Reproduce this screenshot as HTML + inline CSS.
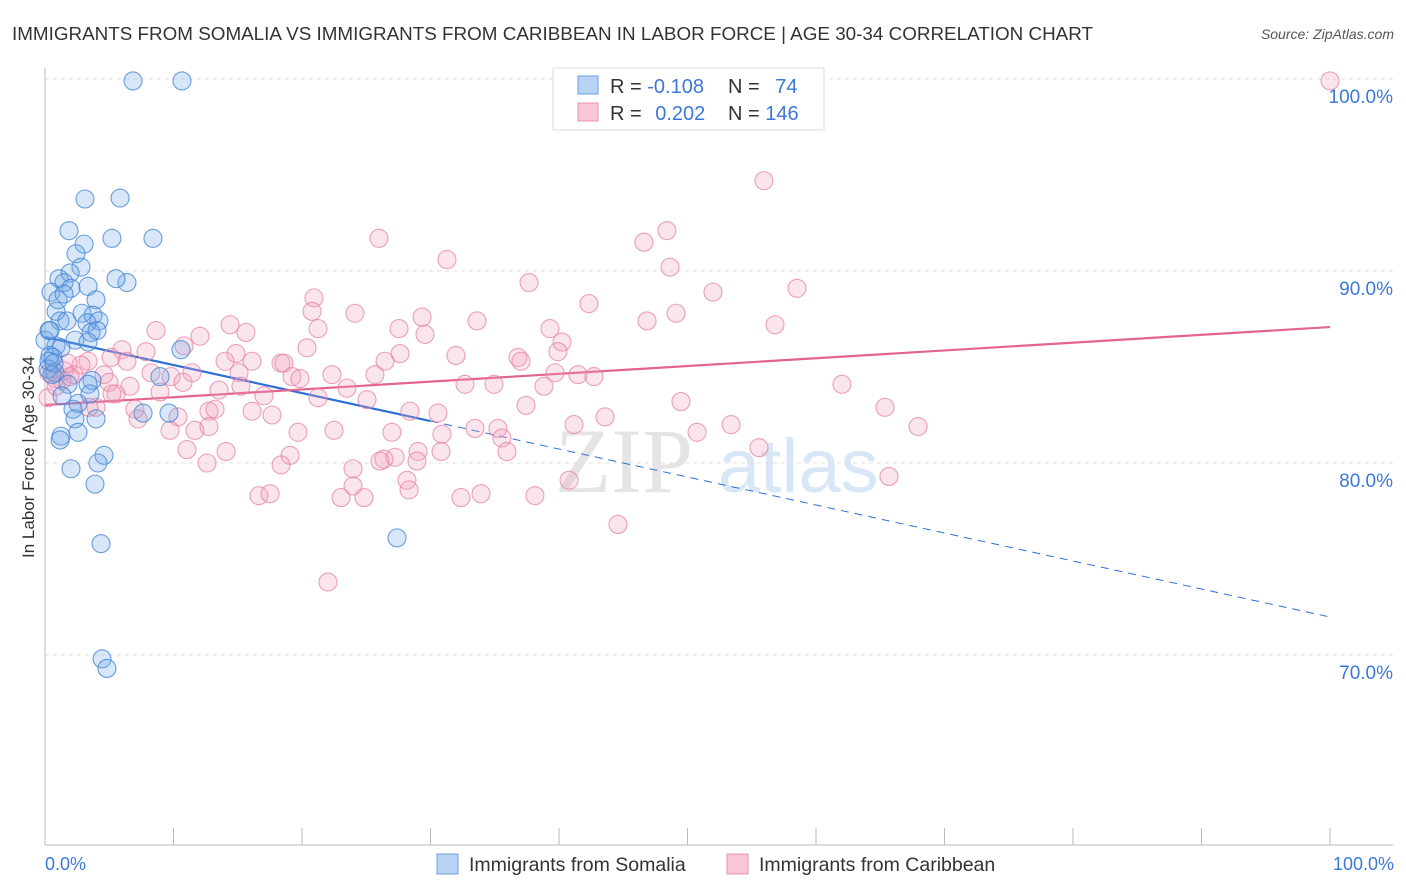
<!DOCTYPE html>
<html><head><meta charset="utf-8">
<style>
body{margin:0;background:#fff;font-family:"Liberation Sans",sans-serif;}
svg{display:block}
</style></head>
<body>
<svg id="chart" width="1406" height="892" viewBox="0 0 1406 892">
<text x="12" y="40" font-size="18" fill="#333" textLength="1081" lengthAdjust="spacingAndGlyphs">IMMIGRANTS FROM SOMALIA VS IMMIGRANTS FROM CARIBBEAN IN LABOR FORCE | AGE 30-34 CORRELATION CHART</text>
<text x="1394" y="39" font-size="14" fill="#555" font-style="italic" text-anchor="end">Source: ZipAtlas.com</text>
<g>
<text x="555" y="492" font-size="92" fill="#e4e4e4" font-family="Liberation Serif,serif">ZIP</text>
<text x="718" y="492" font-size="76" fill="#d8e6f6">atlas</text>
</g>
<g id="grid"></g>
<g id="axes"></g>
<g id="trend"></g>
<g id="pts"></g>
<g>
<rect x="553" y="68" width="271" height="62" fill="#fff" stroke="#ddd"/>
<rect x="578" y="76" width="20" height="18" fill="#b8d3f4" stroke="#6ea2e4"/>
<rect x="578" y="103" width="20" height="18" fill="#f9c6d6" stroke="#eb94b0"/>
<text x="610" y="93" font-size="20" fill="#333">R = <tspan fill="#3c78d8">-0.108</tspan></text>
<text x="728" y="93" font-size="20" fill="#333">N = <tspan fill="#3c78d8" dx="10">74</tspan></text>
<text x="610" y="120" font-size="20" fill="#333">R = <tspan fill="#3c78d8" dx="8">0.202</tspan></text>
<text x="728" y="120" font-size="20" fill="#333">N = <tspan fill="#3c78d8">146</tspan></text>
</g>
<g>
<rect x="437" y="854" width="21" height="20" fill="#b8d3f4" stroke="#6ea2e4"/>
<text x="469" y="871" font-size="19.5" fill="#333">Immigrants from Somalia</text>
<rect x="727" y="854" width="21" height="20" fill="#f9c6d6" stroke="#eb94b0"/>
<text x="759" y="871" font-size="19.5" fill="#333">Immigrants from Caribbean</text>
</g>
<text x="34" y="457" font-size="17" fill="#333" text-anchor="middle" transform="rotate(-90 34 457)">In Labor Force | Age 30-34</text>
<text x="45" y="870" font-size="18" fill="#3c78d8">0.0%</text>
<text x="1394" y="870" font-size="18" fill="#3c78d8" text-anchor="end">100.0%</text>
</svg>
<script>
const yTicks=[100,90,80,70];
const yTickLabels=["100.0%","90.0%","80.0%","70.0%"];
const xTicks=[0,10,20,30,40,50,60,70,80,90,100];
const somaliaX=[6.85,10.66,3.11,5.84,1.87,5.21,8.40,3.04,2.41,2.80,1.09,1.95,1.48,2.02,3.35,6.38,5.53,0.47,3.97,0.86,1.17,1.71,2.88,3.74,4.20,3.27,0.31,3.58,4.05,2.33,3.35,0.86,1.25,10.58,0.39,0.62,0.23,0.78,0.54,8.95,3.66,1.79,3.35,1.32,3.50,2.57,9.65,7.63,2.18,2.33,3.97,2.57,1.25,1.17,4.59,4.12,2.02,3.89,4.36,27.39,4.44,4.82,0.31,0.70,0,0.39,1.01,1.48];
const somaliaY=[99.9,99.9,93.75,93.8,92.1,91.7,91.7,91.4,90.9,90.2,89.6,89.9,89.4,89.1,89.2,89.4,89.6,88.9,88.5,87.9,87.4,87.4,87.8,87.7,87.4,87.3,86.9,86.8,86.9,86.4,86.3,86.1,86.0,85.9,85.6,85.5,84.9,84.7,84.6,84.5,84.3,84.1,84.1,83.5,83.6,83.1,82.6,82.6,82.8,82.3,82.3,81.6,81.4,81.2,80.4,80.0,79.7,78.9,75.8,76.1,69.8,69.3,85.3,85.2,86.4,86.9,88.5,88.8];
const caribX=[100,55.95,25.99,48.40,46.61,31.28,48.64,37.67,20.93,51.98,58.52,42.33,20.78,24.12,29.34,33.62,49.11,56.81,46.85,14.40,15.64,8.64,12.06,21.25,27.55,39.30,29.57,40.23,5.99,7.86,10.82,14.86,20.39,27.63,31.98,39.92,36.81,37.04,5.14,6.38,14.01,16.11,18.37,18.60,26.46,3.35,2.80,1.48,2.26,4.59,8.25,9.81,11.44,15.10,19.22,22.33,25.68,39.69,41.48,42.72,0.78,1.32,4.98,6.61,10.74,15.25,19.84,23.50,32.68,34.94,38.83,62.02,5.53,8.95,13.54,17.04,21.25,25.06,49.49,7.00,7.24,10.35,12.76,13.23,16.11,17.67,28.40,30.58,37.43,43.58,65.37,9.73,11.67,12.76,19.69,22.49,27.00,30.89,33.46,35.25,41.17,53.39,67.94,3.97,11.05,14.09,19.07,30.82,35.56,35.95,26.38,23.97,26.07,27.24,29.03,28.95,12.61,18.37,50.74,55.56,65.68,23.97,28.17,28.33,40.78,16.65,17.51,23.04,24.82,32.37,33.93,38.13,44.59,22.02,5.21,3.42,0.23,0.86,1.95,1.79,0.31];
const caribY=[99.9,94.7,91.7,92.1,91.5,90.6,90.2,89.4,88.6,88.9,89.1,88.3,87.9,87.8,87.6,87.4,87.8,87.2,87.4,87.2,86.8,86.9,86.6,87.0,87.0,87.0,86.7,86.3,85.9,85.8,86.1,85.7,86.0,85.7,85.6,85.8,85.5,85.3,85.5,85.3,85.3,85.3,85.2,85.2,85.3,85.3,85.1,84.8,84.6,84.6,84.7,84.5,84.7,84.7,84.5,84.6,84.6,84.7,84.6,84.5,84.4,84.3,84.2,84.0,84.2,84.0,84.4,83.9,84.1,84.1,84.0,84.1,83.6,83.7,83.8,83.5,83.4,83.3,83.2,82.8,82.3,82.4,82.7,82.8,82.7,82.5,82.7,82.6,83.0,82.4,82.9,81.7,81.7,81.9,81.6,81.7,81.6,81.5,81.8,81.8,82.0,82.0,81.9,82.9,80.7,80.6,80.4,80.6,81.3,80.6,80.2,79.7,80.1,80.3,80.6,80.1,80.0,79.9,81.6,80.8,79.3,78.8,79.1,78.6,79.1,78.3,78.4,78.2,78.2,78.2,78.4,78.3,76.8,73.8,83.6,82.9,83.4,84.0,84.5,85.2,84.7];
const somaliaTrend=[86.56,71.98]; // y at x=0 and x=100
const somaliaSolidEnd=30;
const caribTrend=[83.02,87.08];

const NS="http://www.w3.org/2000/svg";
const X0=45,X1=1330,YTOP=79,PXPER=19.2;
const sx=v=>X0+(X1-X0)*v/100;
const sy=v=>YTOP+(100-v)*PXPER;
function mk(tag,attrs,parent){const e=document.createElementNS(NS,tag);for(const k in attrs)e.setAttribute(k,attrs[k]);parent.appendChild(e);return e;}
const grid=document.getElementById('grid'),axes=document.getElementById('axes'),trend=document.getElementById('trend'),pts=document.getElementById('pts');
yTicks.forEach((t,i)=>{
 const l=mk('line',{x1:X0,x2:1393,y1:sy(t),y2:sy(t),stroke:'#e2e2e2','stroke-dasharray':'4,4'},grid);
 
 
 const tx=mk('text',{x:1393,y:sy(t)+24,'font-size':19,fill:'#3c78d8','text-anchor':'end'},grid);
 tx.textContent=yTickLabels[i];
 
 
});
const ax=mk('line',{x1:X0,x2:X0,y1:68,y2:845,stroke:'#bbb'},axes);


const bx=mk('line',{x1:X0,x2:1393,y1:845,y2:845,stroke:'#bbb'},axes);


xTicks.forEach(t=>{
 const l=mk('line',{x1:sx(t),x2:sx(t),y1:828,y2:845,stroke:'#bbb'},axes);
 
 
});
function drawPts(xs,ys,fill,stroke,name){
 xs.forEach((x,i)=>{
  const c=mk('circle',{cx:sx(x),cy:sy(ys[i]),r:9,fill:fill,stroke:stroke,'stroke-width':1.1},pts);
  
  
 });
}
drawPts(caribX,caribY,'rgba(242,160,188,0.28)','rgba(230,130,165,0.75)','caribbean');
drawPts(somaliaX,somaliaY,'rgba(110,165,230,0.28)','rgba(70,135,215,0.8)','somalia');
const bl=t=>somaliaTrend[0]+(somaliaTrend[1]-somaliaTrend[0])*t/100;
const s1=mk('line',{x1:sx(0),y1:sy(bl(0)),x2:sx(somaliaSolidEnd),y2:sy(bl(somaliaSolidEnd)),stroke:'#2f6fd6','stroke-width':2.2},trend);


const s2=mk('line',{x1:sx(somaliaSolidEnd),y1:sy(bl(somaliaSolidEnd)),x2:sx(100),y2:sy(bl(100)),stroke:'#2f6fd6','stroke-width':1,'stroke-dasharray':'8,6'},trend);


const p1=mk('line',{x1:sx(0),y1:sy(caribTrend[0]),x2:sx(100),y2:sy(caribTrend[1]),stroke:'#e2648f','stroke-width':2.2},trend);


</script>
</body></html>
